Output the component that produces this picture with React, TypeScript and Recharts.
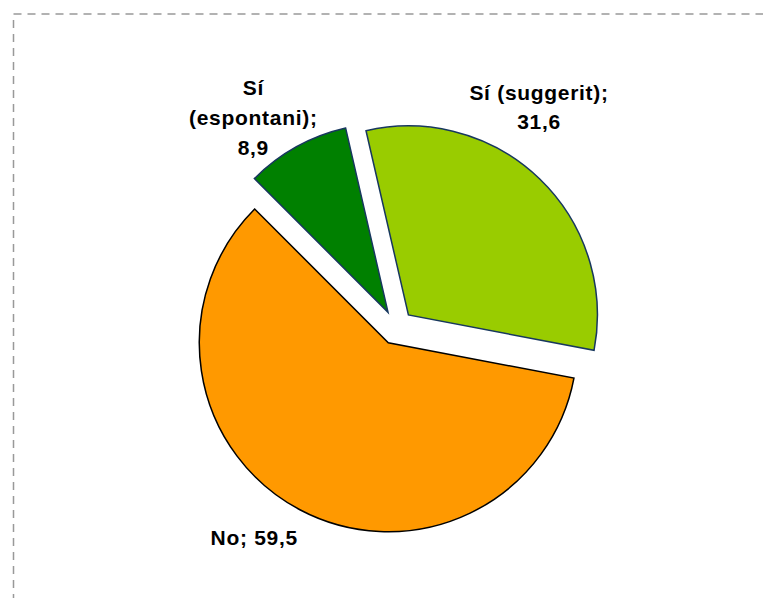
import React from 'react';
import { PieChart, Pie, Cell, Sector } from 'recharts';

// ---- data ----
const categories = ['Sí (espontani)', 'Sí (suggerit)', 'No'];
const values = [8.9, 31.6, 59.5];

// ---- styles / layout ----
const fills = ['#008000', '#99CC00', '#FF9900'];
const strokes = ['#17375E', '#17375E', '#000000'];
const W = 763;
const H = 598;
const CX = 396.4;
const CY = 327.4;
const R = 189;
const EXPLODE = 17.3;
const RAD = Math.PI / 180;
const FONT_SIZE = 21;
const LINE_H = 29.8;
const CAP = 0.716 * FONT_SIZE;
// label placement relative to each slice's mid angle (degrees) and distance from centre
const labelLayout = [
  { turn: 5.3, radius: 254, wrap: 12 },
  { turn: 11, radius: 262.5, wrap: 14 },
  { turn: -6.2, radius: 253.7, wrap: 20 },
];

const data = categories.map((name, i) => ({ name, value: values[i] }));

const fmt = (v: number) => v.toFixed(1).replace('.', ',');

function wrapWords(text: string, max: number): string[] {
  const words = text.split(' ');
  const lines: string[] = [];
  let cur = '';
  for (const w of words) {
    if (!cur) cur = w;
    else if ((cur + ' ' + w).length <= max) cur = cur + ' ' + w;
    else {
      lines.push(cur);
      cur = w;
    }
  }
  if (cur) lines.push(cur);
  return lines;
}

const ExplodedSector = (props: any) => {
  const { cx, cy, midAngle } = props;
  const dx = EXPLODE * Math.cos(-midAngle * RAD);
  const dy = EXPLODE * Math.sin(-midAngle * RAD);
  return <Sector {...props} cx={cx + dx} cy={cy + dy} />;
};

const renderLabel = (props: any) => {
  const { cx, cy, midAngle, index } = props;
  const lay = labelLayout[index];
  const name = categories[index];
  const value = values[index];
  const a = (midAngle + lay.turn) * RAD;
  const x = cx + lay.radius * Math.cos(a);
  const y = cy - lay.radius * Math.sin(a);
  const lines = wrapWords(`${name}; ${fmt(value)}`, lay.wrap);
  const blockH = CAP + (lines.length - 1) * LINE_H;
  const firstBase = y - blockH / 2 + CAP;
  return (
    <text
      key={`lbl-${index}`}
      x={x}
      y={firstBase}
      textAnchor="middle"
      fontFamily="'Liberation Sans', Arial, sans-serif"
      fontWeight="bold"
      fontSize={FONT_SIZE}
      letterSpacing={0.7}
      fill="#000000"
    >
      {lines.map((ln, i) => (
        <tspan key={i} x={x} y={firstBase + i * LINE_H}>
          {ln}
        </tspan>
      ))}
    </text>
  );
};

export default function App() {
  return (
    <div style={{ position: 'absolute', left: 0, top: 0, width: W, height: H, background: '#ffffff' }}>
      <svg width={W} height={H} style={{ position: 'absolute', left: 0, top: 0 }}>
        <rect
          x={13.5}
          y={14}
          width={W + 100}
          height={H + 100}
          fill="none"
          stroke="#999999"
          strokeWidth={1.5}
          strokeDasharray="8 6"
        />
      </svg>
      <div style={{ position: 'absolute', left: 0, top: 0 }}>
        <PieChart width={W} height={H} margin={{ top: 0, right: 0, bottom: 0, left: 0 }}>
          <Pie
            data={data}
            dataKey="value"
            nameKey="name"
            cx={CX}
            cy={CY}
            outerRadius={R}
            startAngle={135}
            endAngle={-225}
            isAnimationActive={false}
            shape={ExplodedSector}
            label={renderLabel}
            labelLine={false}
          >
            {data.map((d, i) => (
              <Cell key={d.name} fill={fills[i]} stroke={strokes[i]} strokeWidth={1.5} />
            ))}
          </Pie>
        </PieChart>
      </div>
    </div>
  );
}
